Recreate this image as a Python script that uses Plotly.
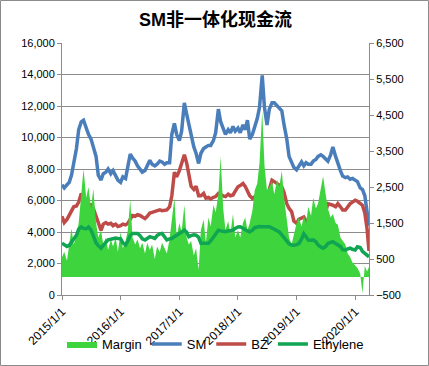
import pandas as pd
import plotly.graph_objects as go

dates = list(pd.date_range("2015-01-01", periods=126, freq="SMS").strftime("%Y-%m-%d")) + ["2020-03-27"]

sm = [7000, 6800, 7000, 7150, 7600, 8400, 9300, 10500, 11000, 11100,
      10500, 10200, 9900, 9300, 8800, 7600, 7300, 7700, 7800, 8000,
      7700, 7900, 7600, 7300, 7150, 7500, 7400, 8200, 8950, 8700,
      8500, 8200, 8000, 7800, 7900, 8200, 8550, 8300, 8200, 8300,
      8500, 8450, 8300, 8400, 8400, 10200, 10900, 10200, 9800, 10400,
      12200, 11500, 10800, 10000, 9400, 9000, 8350, 9000, 9300, 9400,
      9500, 9500, 9800, 10300, 11800, 11000, 10500, 10200, 10500, 10300,
      10700, 10400, 10600, 10300, 10800, 10500, 11100, 9900, 10200, 10600,
      11200, 11900, 13950, 11900, 10800, 11800, 12200, 12200, 12000, 11900,
      11700, 10800, 9900, 8800, 8400, 8100, 7950, 8200, 8450, 8200,
      8400, 8300, 8300, 8500, 8600, 8800, 8900, 8800, 8600, 8500,
      8900, 9400, 8800, 8300, 7900, 7550, 7450, 7500, 7350, 7400,
      7300, 7200, 6800, 6700, 6300, 5300, 4400]

bz = [5000, 4600, 4800, 5050, 5300, 5600, 5650, 5900, 6450, 6000,
      5500, 5400, 5800, 5500, 5000, 4600, 4100, 4500, 4600, 4500,
      4550, 4400, 4500, 4350, 4400, 4500, 4450, 4550, 4800, 5050,
      5000, 5100, 5050, 4950, 4850, 5000, 5200, 5250, 5300, 5300,
      5400, 5350, 5400, 5400, 5600, 6300, 7800, 7500, 7900, 8300,
      8900, 8400, 7600, 6900, 6700, 6900, 6300, 6300, 6450, 6150,
      6200, 6100, 6200, 6250, 6450, 6350, 6300, 6250, 6400, 6300,
      6350, 6600, 6870, 6950, 7080, 6900, 6650, 6300, 6130, 6250,
      6350, 6300, 6450, 6250, 6130, 6700, 7290, 7200, 7080, 7000,
      6870, 6500, 5800, 5500, 5300, 4700, 4550, 4800, 4900, 4950,
      4700, 4350, 4500, 4550, 4500, 4550, 4700, 4950, 5300, 5800,
      5750, 5700, 5600, 5800, 5600, 5400, 5400, 5600, 5800, 5900,
      6020, 5950, 5810, 5700, 5200, 4200, 2800]

ethylene = [940, 900, 850, 880, 980, 1080, 1160, 1330, 1390, 1350,
            1340, 1390, 1300, 1150, 950, 870, 800, 880, 960, 1030,
            1050, 1070, 1080, 1070, 1060, 950, 890, 1000, 1150, 1210,
            1200, 1210, 1150, 1060, 1030, 1080, 1120, 1100, 1070, 1150,
            1200, 1210, 1120, 1030, 1060, 1070, 1120, 1150, 1210, 1250,
            1300, 1250, 1120, 1150, 1170, 1160, 1100, 935, 940, 950,
            935, 1000, 1100, 1200, 1300, 1280, 1260, 1257, 1280, 1300,
            1300, 1350, 1390, 1395, 1350, 1300, 1280, 1257, 1300, 1370,
            1395, 1400, 1395, 1395, 1400, 1395, 1360, 1320, 1300, 1250,
            1170, 1100, 990, 920, 890, 880, 900, 930, 1050, 1200,
            1120, 1025, 1020, 1030, 980, 890, 830, 800, 850, 930,
            960, 980, 930, 890, 850, 760, 750, 780, 800, 770,
            750, 840, 820, 710, 650, 580, 560]

margin = [550, 700, 450, 900, 1350, 900, 1150, 1500, 2400, 3000,
          2200, 2500, 1900, 2450, 1500, 1100, 1300, 900, 1100, 750,
          1050, 850, 1100, 700, 1250, 800, 1000, 1300, 2150, 1100,
          900, 1050, 800, 950, 650, 950, 750, 900, 500, 850,
          700, 950, 800, 650, 1050, 1650, 2200, 1100, 1500, 1250,
          2000, 1100, 900, 1000, 600, 800, 200, 1300, 1600, 950,
          1650, 1400, 2000, 1800, 2300, 3350, 1900, 1300, 1550, 1200,
          1750, 1100, 1300, 1100, 1500, 1650, 1300, 1500, 1850, 2400,
          2600, 3150, 4600, 3100, 2400, 2500, 2650, 2300, 2700, 2500,
          2950, 2200, 1650, 1100, 900, 1200, 1500, 1650, 1400, 1700,
          1500, 1950, 1700, 2200, 1900, 2050, 2450, 2800, 2300, 1900,
          1650, 1750, 1500, 1450, 1100, 1000, 900, 650, 550, 400,
          300, 250, 100, -450, 300, 150, 280]

x_tick_vals = ["2015-01-01", "2016-01-01", "2017-01-01", "2018-01-01", "2019-01-01", "2020-01-01"]
x_tick_text = ["2015/1/1", "2016/1/1", "2017/1/1", "2018/1/1", "2019/1/1", "2020/1/1"]
left_ticks = list(range(0, 16001, 2000))
right_ticks = list(range(-500, 6501, 1000))

FONT = "Liberation Sans, Arial, Noto Sans CJK SC, sans-serif"
GRAY = "#8c8c8c"

fig = go.Figure()
fig.add_trace(go.Scatter(x=dates, y=margin, name="Margin", yaxis="y2", mode="lines",
                         line=dict(width=0, color="#3DD43D"), fill="tozeroy",
                         fillcolor="#3DD43D"))
fig.add_trace(go.Scatter(x=dates, y=sm, name="SM", mode="lines",
                         line=dict(width=3.5, color="#4A7EBB")))
fig.add_trace(go.Scatter(x=dates, y=bz, name="BZ", mode="lines",
                         line=dict(width=3.5, color="#BE4B48")))
fig.add_trace(go.Scatter(x=dates, y=ethylene, name="Ethylene", yaxis="y2", mode="lines",
                         line=dict(width=3.5, color="#0FA552")))

fig.update_layout(
    width=429, height=366,
    margin=dict(l=62, r=60, t=43, b=71, autoexpand=False),
    paper_bgcolor="white", plot_bgcolor="white",
    font=dict(family=FONT, size=11, color="black"),
    title=dict(text="<b>SM非一体化现金流</b>", x=0.5, xanchor="center",
               xref="paper", y=0.945, yref="container", yanchor="middle",
               font=dict(family="Liberation Sans, Noto Sans CJK SC, sans-serif", size=18, color="black"),
               automargin=False),
    showlegend=True,
    legend=dict(orientation="h", x=0.5, xanchor="center", y=-0.195, yanchor="middle",
                font=dict(size=13, color="black"), bgcolor="rgba(0,0,0,0)",
                itemwidth=30, tracegroupgap=0),
    xaxis=dict(type="date", range=["2015-01-01", "2020-03-27"], automargin=False,
               tickvals=x_tick_vals, ticktext=x_tick_text, tickangle=-45,
               showgrid=False, showline=True, linecolor=GRAY, linewidth=1,
               ticks="outside", ticklen=4, tickcolor=GRAY, zeroline=False,
               tickfont=dict(size=12)),
    yaxis=dict(range=[0, 16000], tickvals=left_ticks, tickformat=",", automargin=False,
               showgrid=True, gridcolor=GRAY, gridwidth=1,
               showline=True, linecolor=GRAY, linewidth=1,
               ticks="outside", ticklen=4, tickcolor=GRAY, zeroline=False,
               tickfont=dict(size=11)),
    yaxis2=dict(range=[-500, 6500], tickvals=right_ticks, tickformat=",", automargin=False,
                overlaying="y", side="right", showgrid=False,
                showline=True, linecolor=GRAY, linewidth=1,
                ticks="outside", ticklen=4, tickcolor=GRAY, zeroline=False,
                tickfont=dict(size=11)),
    shapes=[dict(type="rect", xref="paper", yref="paper",
                 x0=-0.2003, x1=1.1938, y0=-0.2798, y1=1.1687,
                 line=dict(color="#8a8a8a", width=1), fillcolor="rgba(0,0,0,0)",
                 layer="below")],
)

fig.write_html("out.html", config={"displayModeBar": False},
               post_script="document.body.style.margin='0';document.body.style.padding='0';")
